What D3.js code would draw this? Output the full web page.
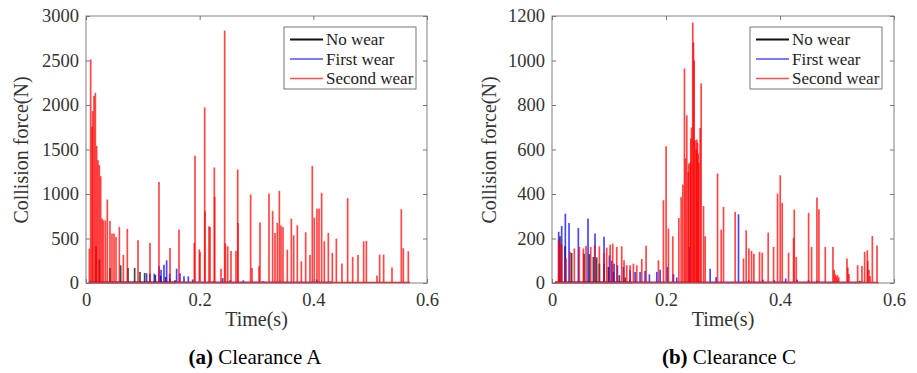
<!DOCTYPE html>
<html>
<head>
<meta charset="utf-8">
<script src="https://cdnjs.cloudflare.com/ajax/libs/d3/7.8.5/d3.min.js"></script>
<style>
  body { margin: 0; background: #fff; }
  .tick line { stroke: #777; }
</style>
</head>
<body>
<div id="chart"></div>
<script>

// [time (s), collision force (N)] peaks
var seriesNames = ["No wear", "First wear", "Second wear"];

// (a) Clearance A
var aNoWear = [[0.0176,412],[0.0235,262],[0.0422,169],[0.0610,199],[0.0739,169],[0.0856,169],
  [0.0950,124],[0.1032,113],[0.1126,105],[0.1220,90],[0.1314,82],[0.1402,68],[0.1478,45],[0.1566,30]];
var aFirstWear = [[0.1067,110],[0.1202,105],[0.1284,187],[0.1320,150],[0.1372,206],[0.1419,255],
  [0.1472,105],[0.1595,161],[0.1654,110],[0.1724,75],[0.1800,75],[0.1877,40],[0.2006,25],
  [0.2240,20],[0.2405,55],[0.2534,30],[0.2768,30],[0.3120,20],[0.4059,40],[0.4300,15]];
var aSecondWear = [[0.0059,386],[0.0082,2512],[0.0106,1755],[0.0117,1931],[0.0141,2100],[0.0164,2137],
  [0.0188,1541],[0.0211,1380],[0.0235,1324],[0.0258,1200],[0.0282,724],[0.0305,705],[0.0340,705],
  [0.0375,938],[0.0422,698],[0.0457,555],[0.0493,555],[0.0528,518],[0.0587,630],[0.0657,315],
  [0.0727,608],[0.0915,480],[0.1126,450],[0.1284,1136],[0.1478,394],[0.1636,600],[0.1906,450],
  [0.1918,1429],[0.1994,379],[0.2006,349],[0.2088,1973],[0.2094,810],[0.2164,638],[0.2182,630],
  [0.2258,1298],[0.2264,968],[0.2375,161],[0.2440,2835],[0.2452,443],[0.2493,412],[0.2551,360],
  [0.2639,360],[0.2669,1275],[0.2675,675],[0.2897,994],[0.2921,169],[0.3044,188],[0.3061,679],
  [0.3220,1005],[0.3284,810],[0.3325,563],[0.3366,675],[0.3402,1035],[0.3431,645],[0.3466,630],
  [0.3542,375],[0.3613,724],[0.3654,536],[0.3718,649],[0.3789,244],[0.3865,570],[0.3941,315],
  [0.3982,1316],[0.4017,735],[0.4064,833],[0.4100,836],[0.4146,1012],[0.4193,469],[0.4264,563],
  [0.4334,338],[0.4405,499],[0.4504,218],[0.4604,953],[0.4692,293],[0.4786,315],[0.4886,469],
  [0.4933,473],[0.5120,83],[0.5167,319],[0.5237,319],[0.5384,173],[0.5548,829],[0.5583,390],
  [0.5671,356]];

// (b) Clearance C
var cNoWear = [[0.0140,210],[0.0228,165],[0.0345,135],[0.0562,132],[0.0656,130],[0.0726,117],
  [0.0784,115],[0.0831,87],[0.0913,87],[0.0989,72],[0.1077,50],[0.1182,35],[0.1282,25],[0.1370,15]];
var cFirstWear = [[0.0117,230],[0.0170,256],[0.0234,312],[0.0299,270],[0.0462,247],[0.0632,290],
  [0.0755,222],[0.0913,208],[0.1007,124],[0.1048,100],[0.1089,87],[0.1147,80],[0.1253,72],
  [0.1370,57],[0.1458,50],[0.1545,50],[0.1633,54],[0.1709,39],[0.1838,50],[0.1897,60],
  [0.2025,72],[0.2131,40],[0.2189,25],[0.2412,162],[0.2775,64],[0.2880,27],[0.3272,309],
  [0.3450,12],[0.3700,15],[0.3900,12],[0.4100,20],[0.4300,15],[0.4500,12],[0.4650,10],
  [0.5000,8],[0.5400,10]];
var cSecondWear = [[0.0117,195],[0.0120,30],[0.0140,174],[0.0170,174],[0.0246,110],[0.0316,140],
  [0.0392,155],[0.0480,162],[0.0550,155],[0.0597,167],[0.0679,162],[0.0749,170],[0.0831,165],
  [0.0913,135],[0.0960,159],[0.1019,172],[0.1065,177],[0.1136,162],[0.1223,165],[0.1264,102],
  [0.1311,80],[0.1370,80],[0.1428,87],[0.1487,80],[0.1575,108],[0.1651,167],[0.1867,102],
  [0.1955,372],[0.2002,615],[0.2043,245],[0.2119,210],[0.2225,292],[0.2266,387],[0.2295,442],
  [0.2324,964],[0.2340,560],[0.2365,754],[0.2388,500],[0.2400,537],[0.2424,541],[0.2435,650],
  [0.2447,699],[0.2470,1171],[0.2482,1081],[0.2494,1000],[0.2511,642],[0.2530,600],[0.2541,645],
  [0.2552,630],[0.2564,582],[0.2575,540],[0.2599,697],[0.2617,897],[0.2658,346],[0.2687,210],
  [0.2904,492],[0.2968,240],[0.3009,342],[0.3214,320],[0.3360,110],[0.3407,237],[0.3454,155],
  [0.3501,144],[0.3542,132],[0.3641,140],[0.3688,136],[0.3793,226],[0.3887,162],[0.3957,402],
  [0.4004,484],[0.4039,360],[0.4150,136],[0.4238,202],[0.4250,330],[0.4285,117],[0.4502,315],
  [0.4554,162],[0.4648,384],[0.4683,331],[0.4794,162],[0.4929,162],[0.4950,60],[0.4970,40],
  [0.4990,30],[0.5010,35],[0.5030,25],[0.5175,110],[0.5190,70],[0.5210,40],[0.5362,80],
  [0.5438,76],[0.5485,140],[0.5532,147],[0.5540,100],[0.5560,60],[0.5580,30],[0.5620,211],
  [0.5702,168]];

var xTicks = [0, 0.2, 0.4, 0.6];
var aYTicks = [0, 500, 1000, 1500, 2000, 2500, 3000];
var cYTicks = [0, 200, 400, 600, 800, 1000, 1200];

var colors = ["#000000", "#0000ff", "#ff0000"];
var legendColors = ["#111111", "#5050ff", "#ff5050"];
var serif = "'Liberation Serif', 'DejaVu Serif', serif";

var svg = d3.select("#chart").append("svg")
  .attr("width", 917)
  .attr("height", 373);

function drawPanel(opt) {
  var x = d3.scaleLinear().domain([0, 0.6]).range([opt.left, opt.right]);
  var y = d3.scaleLinear().domain([0, opt.yMax]).range([283, 16]);

  var g = svg.append("g");

  // spikes, drawn in legend order so red ends up on top
  opt.series.forEach(function(data, i) {
    var s = g.append("g");
    var last = d3.max(data, d => d[0]);
    s.append("line")
      .attr("x1", x(0.005)).attr("x2", x(last + 0.003))
      .attr("y1", y(0) - 0.5).attr("y2", y(0) - 0.5)
      .attr("stroke", colors[i])
      .attr("stroke-width", 1.6);
    s.selectAll("line.spike")
      .data(data)
      .enter()
      .append("line")
      .attr("class", "spike")
      .attr("x1", d => x(d[0]))
      .attr("x2", d => x(d[0]))
      .attr("y1", y(0))
      .attr("y2", d => y(d[1]))
      .attr("stroke", colors[i])
      .attr("stroke-width", 1.7)
      .attr("stroke-opacity", 0.72);
  });

  // box
  g.append("rect")
    .attr("x", opt.left).attr("y", 16)
    .attr("width", opt.right - opt.left).attr("height", 283 - 16)
    .attr("fill", "none")
    .attr("stroke", "#808080");

  var bottomAxis = d3.axisBottom(x).tickValues(xTicks).tickSizeInner(-4).tickSizeOuter(0)
    .tickPadding(10).tickFormat(d => d === 0 ? "0" : d3.format(".1f")(d));
  var leftAxis = d3.axisLeft(y).tickValues(opt.yTicks).tickSizeInner(-4).tickSizeOuter(0)
    .tickPadding(7).tickFormat(d3.format("d"));
  var topAxis = d3.axisTop(x).tickValues(xTicks).tickSizeInner(-4).tickSizeOuter(0).tickFormat("");
  var rightAxis = d3.axisRight(y).tickValues(opt.yTicks).tickSizeInner(-4).tickSizeOuter(0).tickFormat("");

  g.append("g").attr("transform", "translate(0,283)").call(bottomAxis);
  g.append("g").attr("transform", `translate(${opt.left},0)`).call(leftAxis);
  g.append("g").attr("transform", "translate(0,16)").call(topAxis);
  g.append("g").attr("transform", `translate(${opt.right},0)`).call(rightAxis);
  g.selectAll(".domain").remove();
  g.selectAll(".tick text")
    .attr("fill", "#333")
    .attr("font-family", serif)
    .attr("font-size", 18.5);

  // axis labels
  g.append("text")
    .attr("transform", `translate(${opt.yLabelX}, 150) rotate(-90)`)
    .attr("text-anchor", "middle")
    .attr("fill", "#333")
    .attr("font-family", serif)
    .attr("font-size", 20)
    .text("Collision force(N)");

  g.append("text")
    .attr("x", (opt.left + opt.right) / 2)
    .attr("y", 326)
    .attr("text-anchor", "middle")
    .attr("fill", "#333")
    .attr("font-family", serif)
    .attr("font-size", 20)
    .text("Time(s)");

  // caption
  var cap = g.append("text")
    .attr("x", opt.captionX)
    .attr("y", 364)
    .attr("text-anchor", "middle")
    .attr("fill", "#000")
    .attr("font-family", serif)
    .attr("font-size", 21);
  cap.append("tspan").attr("font-weight", "bold").text(opt.tag);
  cap.append("tspan").text(" " + opt.caption);

  // legend
  var lg = g.append("g").attr("transform", `translate(${opt.legendX},27)`);
  lg.append("rect")
    .attr("width", 132).attr("height", 62)
    .attr("fill", "#fff")
    .attr("stroke", "#777");
  seriesNames.forEach(function(name, i) {
    var ly = 12.5 + i * 19.5;
    lg.append("line")
      .attr("x1", 6).attr("x2", 39)
      .attr("y1", ly).attr("y2", ly)
      .attr("stroke", legendColors[i])
      .attr("stroke-width", i === 0 ? 2 : 1.6);
    lg.append("text")
      .attr("x", 42).attr("y", ly + 5.5)
      .attr("fill", "#222")
      .attr("font-family", serif)
      .attr("font-size", 17)
      .text(name);
  });
}

drawPanel({
  left: 86, right: 427, yMax: 3000, yTicks: aYTicks,
  series: [aNoWear, aFirstWear, aSecondWear],
  yLabelX: 28, legendX: 284, captionX: 255, tag: "(a)", caption: "Clearance A"
});

drawPanel({
  left: 552, right: 894, yMax: 1200, yTicks: cYTicks,
  series: [cNoWear, cFirstWear, cSecondWear],
  yLabelX: 496, legendX: 750, captionX: 729, tag: "(b)", caption: "Clearance C"
});

</script>
</body>
</html>
